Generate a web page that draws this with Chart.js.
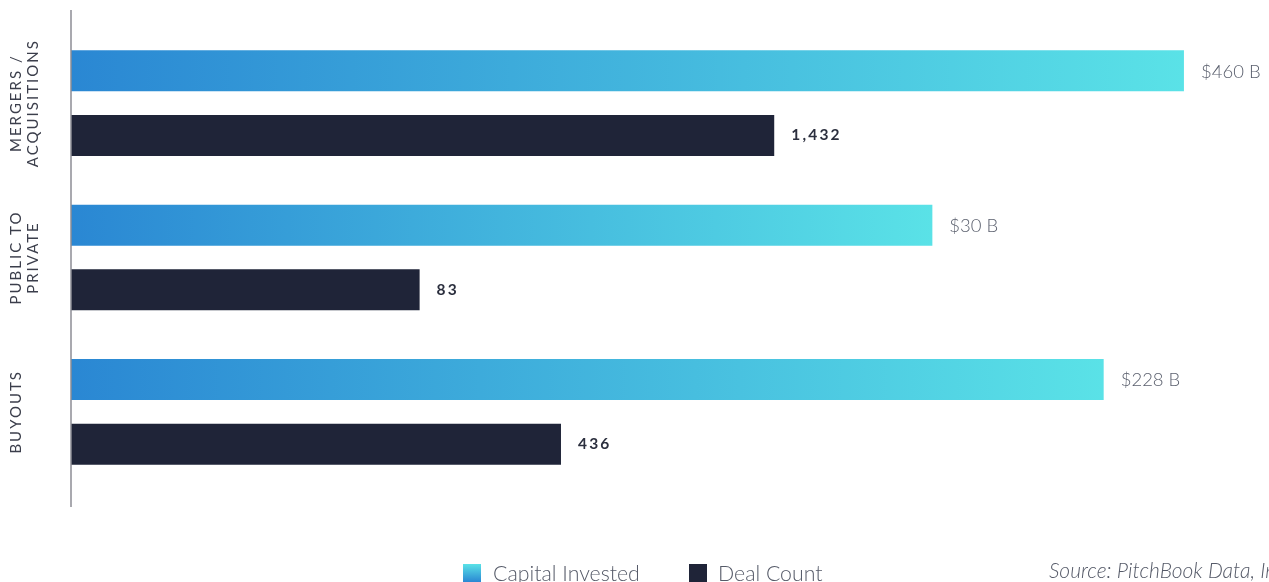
<!DOCTYPE html>
<html>
<head>
<meta charset="utf-8">
<script src="https://cdn.jsdelivr.net/npm/chart.js@4/dist/chart.umd.min.js"></script>
<style>
  html, body { margin: 0; padding: 0; background: #ffffff; }
  #wrap { width: 1269px; height: 582px; position: relative; }
</style>
</head>
<body>
<div id="wrap"><canvas id="c"></canvas></div>
<script>
// ---- data ----
const categories = [["MERGERS /", "ACQUISITIONS"], ["PUBLIC TO", "PRIVATE"], ["BUYOUTS"]];
const capitalInvested = [460, 30, 228];          // $ billions (label values)
const dealCount = [1432, 83, 436];               // deals (label values)
// bar lengths as drawn in the picture (percent of the hidden axis)
const capitalBarLength = [92.9, 71.9, 86.2];
const dealBarLength = [58.7, 29.1, 40.9];
const seriesNames = ["Capital Invested", "Deal Count"];
const sourceText = "Source: PitchBook Data, Inc.";

const BLUE = "#2a87d3";
const CYAN = "#5ae2e7";
const NAVY = "#1f2438";

function barGradient(ctx) {
  const chart = ctx.chart;
  const xs = chart.scales.x;
  if (!xs || !chart.chartArea) return BLUE;
  const x0 = xs.getPixelForValue(0);
  const x1 = xs.getPixelForValue(ctx.raw);
  if (!isFinite(x0) || !isFinite(x1) || x1 <= x0) return BLUE;
  const g = chart.ctx.createLinearGradient(x0, 0, x1, 0);
  g.addColorStop(0, BLUE);
  g.addColorStop(1, CYAN);
  return g;
}

const decorPlugin = {
  id: "decor",
  afterDatasetsDraw(chart) {
    const ctx = chart.ctx;
    const ys = chart.scales.y;
    const area = chart.chartArea;
    ctx.save();
    // axis line
    ctx.strokeStyle = "#8c8c94";
    ctx.lineWidth = 1.5;
    ctx.beginPath();
    ctx.moveTo(area.left, 10);
    ctx.lineTo(area.left, 507);
    ctx.stroke();

    // category labels (rotated)
    ctx.fillStyle = "#3b3e4b";
    ctx.font = "400 15px Lato";
    ctx.letterSpacing = "2px";
    ctx.textAlign = "center";
    ctx.textBaseline = "middle";
    categories.forEach((lines, i) => {
      const cy = ys.getPixelForValue(i);
      lines.forEach((line, j) => {
        ctx.save();
        ctx.translate(16 + j * 17, cy);
        ctx.rotate(-Math.PI / 2);
        ctx.fillText(line, 0, 0);
        ctx.restore();
      });
    });

    // value labels
    const m0 = chart.getDatasetMeta(0);
    const m1 = chart.getDatasetMeta(1);
    ctx.textAlign = "left";
    ctx.textBaseline = "middle";
    m0.data.forEach((el, i) => {
      ctx.font = "300 18.5px Lato";
      ctx.letterSpacing = "0px";
      ctx.fillStyle = "#5a5f6d";
      ctx.fillText("$" + capitalInvested[i] + " B", el.x + 17, el.y + 1);
    });
    m1.data.forEach((el, i) => {
      ctx.font = "700 15.5px Lato";
      ctx.letterSpacing = "2.2px";
      ctx.fillStyle = "#2b2f3e";
      ctx.fillText(dealCount[i].toLocaleString("en-US"), el.x + 17, el.y);
    });

    // legend
    ctx.letterSpacing = "0px";
    const lg = ctx.createLinearGradient(0, 564, 0, 582);
    lg.addColorStop(0, CYAN);
    lg.addColorStop(1, BLUE);
    ctx.fillStyle = lg;
    ctx.fillRect(463, 564, 18, 18);
    ctx.fillStyle = NAVY;
    ctx.fillRect(689, 564, 18, 18);
    ctx.font = "300 21.3px Lato";
    ctx.fillStyle = "#555a68";
    ctx.textBaseline = "alphabetic";
    ctx.fillText(seriesNames[0], 493, 581);
    ctx.fillText(seriesNames[1], 718, 581);

    // source
    ctx.font = "italic 300 21px Lato";
    ctx.fillStyle = "#555a68";
    ctx.fillText(sourceText, 1049, 578);
    ctx.restore();
  }
};

new Chart(document.getElementById("c"), {
  type: "bar",
  data: {
    labels: categories,
    datasets: [
      { label: seriesNames[0], data: capitalBarLength, backgroundColor: barGradient,
        categoryPercentage: 0.838, barPercentage: 0.635 },
      { label: seriesNames[1], data: dealBarLength, backgroundColor: NAVY,
        categoryPercentage: 0.838, barPercentage: 0.635 }
    ]
  },
  options: {
    indexAxis: "y",
    responsive: true,
    maintainAspectRatio: false,
    animation: false,
    layout: { padding: { left: 71, right: 0, top: 26, bottom: 93 } },
    scales: {
      x: { display: false, min: 0, max: 100 },
      y: { display: false }
    },
    plugins: {
      legend: { display: false },
      tooltip: { enabled: false }
    }
  },
  plugins: [decorPlugin]
});
</script>
</body>
</html>
